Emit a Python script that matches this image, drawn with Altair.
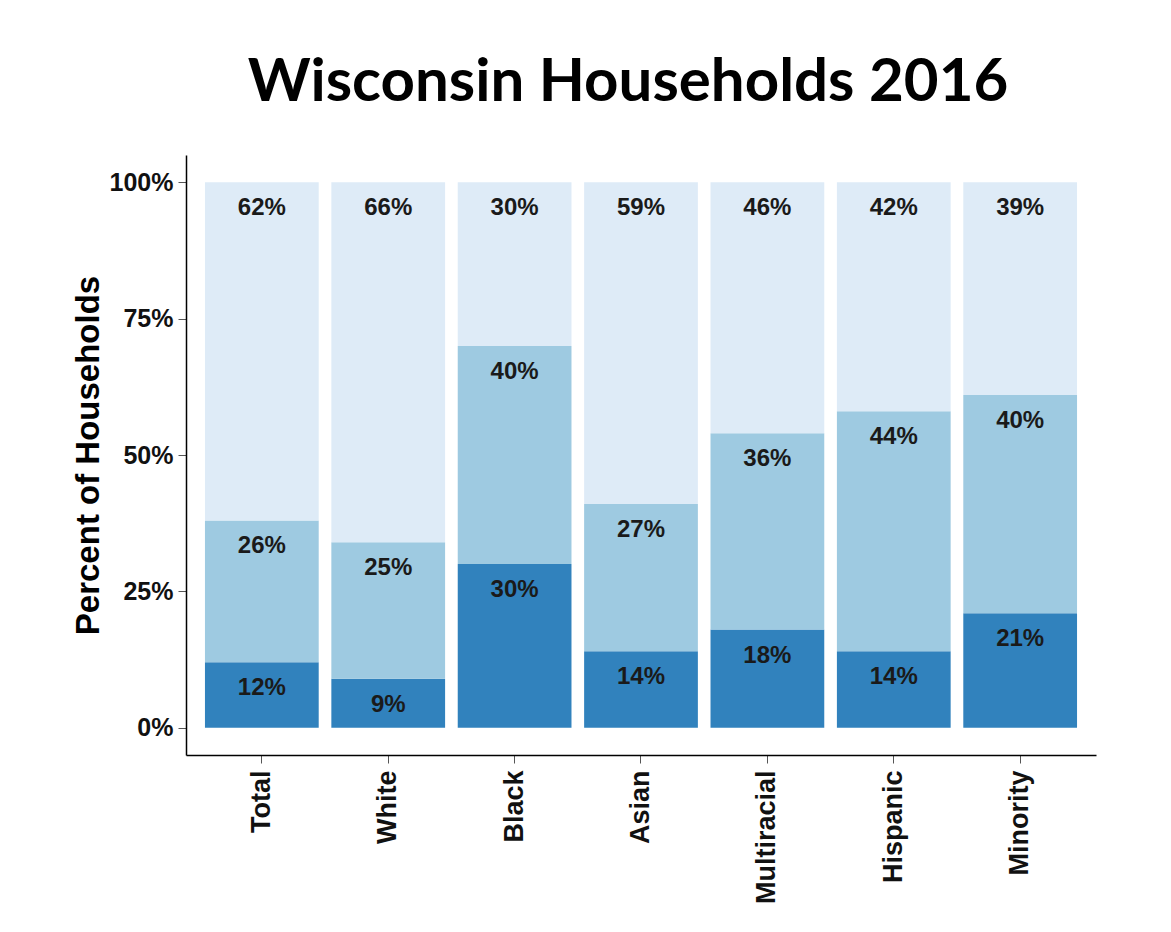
import altair as alt
import pandas as pd

groups = ["Total", "White", "Black", "Asian", "Multiracial", "Hispanic", "Minority"]
levels = ["Poverty", "ALICE", "Above ALICE"]
poverty = [12, 9, 30, 14, 18, 14, 21]
alice = [26, 25, 40, 27, 36, 44, 40]
above = [62, 66, 30, 59, 46, 42, 39]
colors = ["#3182bd", "#9ecae1", "#deebf7"]
y_ticks = [0, 25, 50, 75, 100]

rows = []
for i, g in enumerate(groups):
    for k, (lvl, vals) in enumerate(zip(levels, [poverty, alice, above])):
        rows.append({"group": g, "level": lvl, "rank": k, "pct": vals[i]})
df = pd.DataFrame(rows)

FONT = "Liberation Sans"

x_enc = alt.X(
    "group:N",
    sort=groups,
    scale=alt.Scale(paddingInner=0.1, paddingOuter=0.15),
    axis=alt.Axis(
        title=None,
        labelAngle=-90,
        labelFont=FONT,
        labelFontWeight="bold",
        labelFontSize=27,
        labelColor="#111111",
        labelPadding=7,
        tickSize=8,
        tickColor="#555555",
        domainColor="#000000",
        domainWidth=1.5,
    ),
)
y_enc = alt.Y(
    "pct:Q",
    stack="zero",
    scale=alt.Scale(domain=[-5, 105], nice=False, zero=False),
    axis=alt.Axis(
        title="Percent of Households",
        values=y_ticks,
        labelExpr="datum.value + '%'",
        labelFont=FONT,
        labelFontWeight="bold",
        labelFontSize=25,
        labelColor="#111111",
        labelPadding=5,
        tickSize=8,
        tickColor="#555555",
        domainColor="#000000",
        domainWidth=1.5,
        grid=False,
        titleFont=FONT,
        titleFontSize=33,
        titleFontWeight="bold",
        titleColor="#000000",
        titlePadding=4,
    ),
)

base = alt.Chart(df)

bars = base.mark_bar().encode(
    x=x_enc,
    y=y_enc,
    color=alt.Color("level:N", scale=alt.Scale(domain=levels, range=colors), legend=None),
    order=alt.Order("rank:Q"),
)

text = base.transform_calculate(label="datum.pct + '%'").mark_text(
    dy=26, baseline="middle", align="center", font=FONT, fontWeight="bold",
    fontSize=24, color="#1a1a1a"
).encode(
    x=x_enc,
    y=y_enc,
    detail="level:N",
    order=alt.Order("rank:Q"),
    text="label:N",
)

chart = alt.layer(bars, text).properties(
    width=910,
    height=600,
    title=alt.TitleParams(
        text="Wisconsin Households 2016",
        font="Lato",
        fontSize=60,
        fontWeight="bold",
        color="#000000",
        anchor="middle",
        frame="group",
        dx=-13,
        dy=58,
        baseline="alphabetic",
        offset=52,
    ),
    autosize=alt.AutoSizeParams(type="none"),
    padding={"left": 178, "top": 147, "right": 60, "bottom": 170},
    background="#ffffff",
).configure_view(stroke=None)

chart.save("out.html", embed_options={"renderer": "svg", "actions": False})
